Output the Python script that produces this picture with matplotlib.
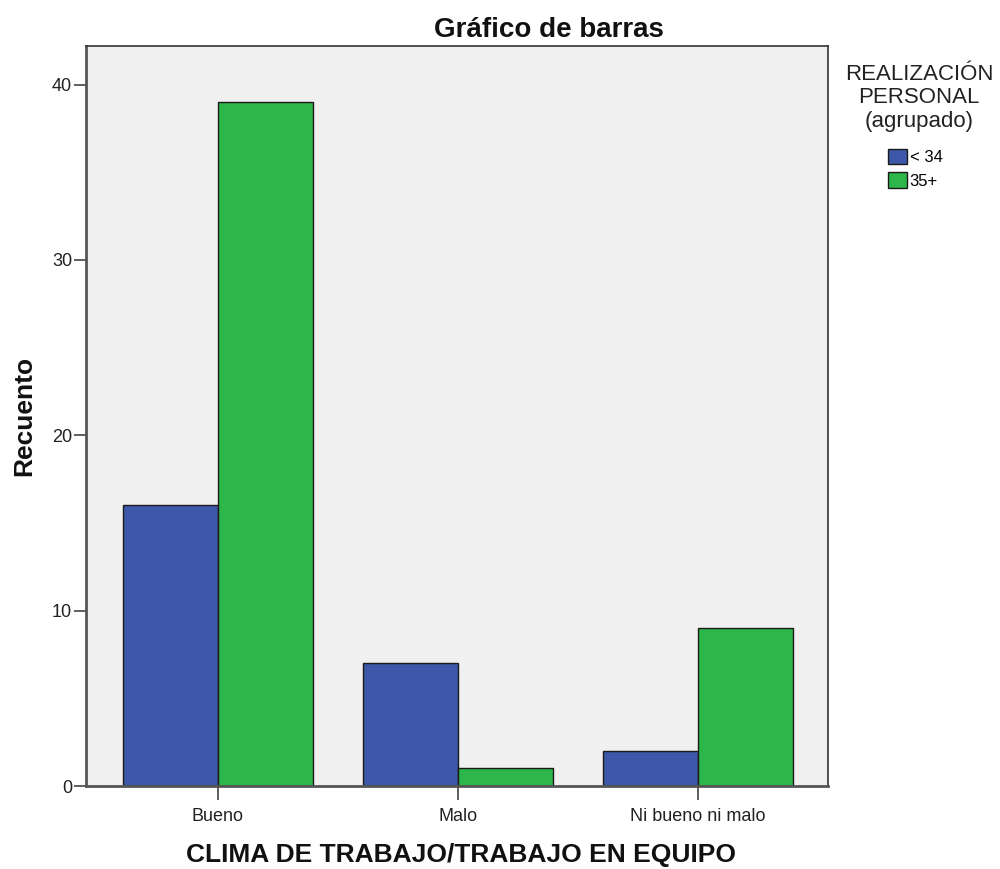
import numpy as np
import matplotlib.pyplot as plt

plt.rcParams['font.family'] = ['Liberation Sans', 'DejaVu Sans']

categories = ['Bueno', 'Malo', 'Ni bueno ni malo']
groups = ['< 34', '35+']
counts_lt34 = [16, 7, 2]
counts_35 = [39, 1, 9]

colors = ['#3d57a9', '#2db64a']

fig = plt.figure(figsize=(10, 8.69), dpi=100)
ax = fig.add_axes([0.086, 0.0955, 0.742, 0.8516])
ax.set_facecolor('#f0f0f0')

x = np.arange(len(categories))
w = 0.396
ax.bar(x - w / 2, counts_lt34, w, color=colors[0], edgecolor='#1a1a1a', linewidth=1, label=groups[0])
ax.bar(x + w / 2, counts_35, w, color=colors[1], edgecolor='#1a1a1a', linewidth=1, label=groups[1])

ax.set_xlim(-0.55, 2.542)
ax.set_ylim(0, 42.2)
ax.set_yticks([0, 10, 20, 30, 40])
ax.set_xticks(x)
ax.set_xticklabels(categories)
ax.tick_params(axis='y', labelsize=13, length=9, width=1.2, color='#444444',
               labelcolor='#222222', pad=1)
ax.tick_params(axis='x', labelsize=13, length=10, width=1.2, color='#444444',
               labelcolor='#222222', pad=6)

for s in ['left', 'bottom']:
    ax.spines[s].set_color('#555555')
    ax.spines[s].set_linewidth(2)
for s in ['top', 'right']:
    ax.spines[s].set_color('#333333')
    ax.spines[s].set_linewidth(1.2)

fig.text(0.549, 1 - 37 / 869, 'Gráfico de barras', fontsize=20, fontweight='bold',
         ha='center', va='baseline', color='#111111')
fig.text(0.461, 1 - 862 / 869, 'CLIMA DE TRABAJO/TRABAJO EN EQUIPO', fontsize=19,
         fontweight='bold', ha='center', va='baseline', color='#111111')
fig.text(0.024, 1 - 416 / 869, 'Recuento', fontsize=19, fontweight='bold',
         rotation=90, ha='center', va='center', color='#111111')

title_lines = ['REALIZACIÓN', 'PERSONAL', '(agrupado)']
title_y = [75, 97.5, 121]
for t, yy in zip(title_lines, title_y):
    fig.text(0.919, 1 - yy / 869, t, fontsize=16, ha='center', va='center', color='#222222')

leg = fig.legend(loc='upper left', bbox_to_anchor=(0.888, 1 - 149 / 869),
                 frameon=False, fontsize=12, handlelength=1.15, handleheight=1.05,
                 handletextpad=0.15, labelspacing=0.4, borderpad=0, borderaxespad=0)

fig.savefig('out.png', dpi=100)
